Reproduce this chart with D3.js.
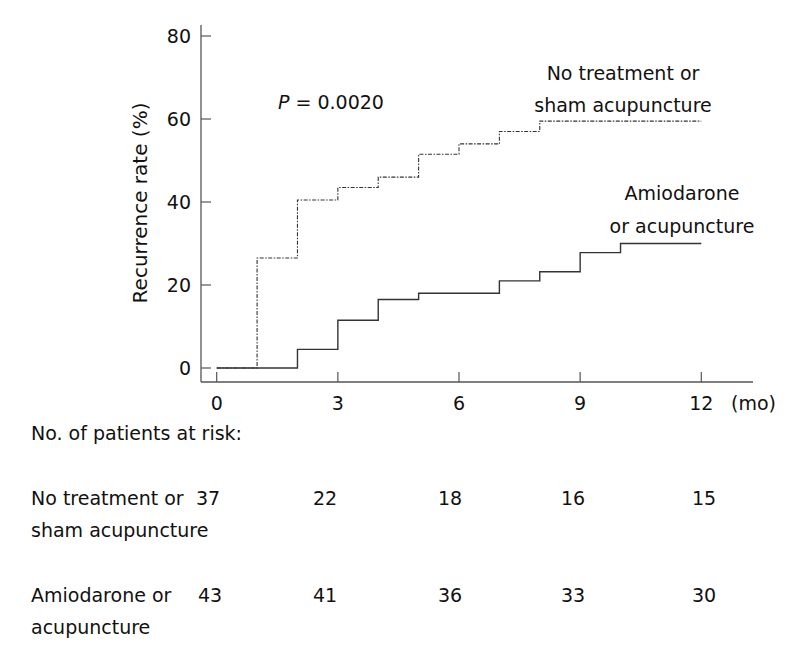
<!DOCTYPE html>
<html><head><meta charset="utf-8">
<script src="https://cdn.jsdelivr.net/npm/d3@7"></script>
<style>
body{margin:0;background:#fff;}
text{font-family:"DejaVu Sans",sans-serif;fill:#111;}
</style></head>
<body><svg id="c" width="787" height="662"></svg>
<script>
// ---- data ----
const months = [0, 3, 6, 9, 12];
const yTicks = [0, 20, 40, 60, 80];
// step points [month, recurrence %]
const noTreatment = [[0,0],[1,26.5],[2,40.5],[3,43.5],[4,46],[5,51.5],[6,54],[7,57],[8,59.5],[12,59.5]];
const amiodarone = [[0,0],[2,4.5],[3,11.5],[4,16.5],[5,18],[7,21],[8,23.2],[9,27.8],[10,30],[12,30]];
const groupNames = [["No treatment or","sham acupuncture"],["Amiodarone or","acupuncture"]];
const curveLabels = [["No treatment or","sham acupuncture"],["Amiodarone","or acupuncture"]];
const atRiskNoTreatment = [37, 22, 18, 16, 15];
const atRiskAmiodarone = [43, 41, 36, 33, 30];
const pText = "0.0020";

const svg = d3.select("#c");
const x = d3.scaleLinear().domain([0,12]).range([216.7,701.3]);
const y = d3.scaleLinear().domain([0,80]).range([368,36]);
const FS = 19;

// Y axis
svg.append("line").attr("x1",201).attr("x2",201).attr("y1",25).attr("y2",382).attr("stroke","#555").attr("stroke-width",1.3);
yTicks.forEach(v=>{
  svg.append("line").attr("x1",201).attr("x2",211).attr("y1",y(v)).attr("y2",y(v)).attr("stroke","#555").attr("stroke-width",1.2);
  svg.append("text").attr("x",191).attr("y",y(v)).attr("dy","0.35em").attr("text-anchor","end").attr("font-size",FS).text(v);
});
// X axis
svg.append("line").attr("x1",201).attr("x2",753).attr("y1",382).attr("y2",382).attr("stroke","#555").attr("stroke-width",1.3);
months.forEach(m=>{
  svg.append("line").attr("x1",x(m)).attr("x2",x(m)).attr("y1",372).attr("y2",382).attr("stroke","#555").attr("stroke-width",1.2);
  svg.append("text").attr("x",x(m)).attr("y",403).attr("dy","0.35em").attr("text-anchor","middle").attr("font-size",FS).text(m);
});
svg.append("text").attr("x",731).attr("y",403).attr("dy","0.35em").attr("font-size",FS).text("(mo)");

// Y label
svg.append("text").attr("transform","translate(140,203) rotate(-90)").attr("text-anchor","middle").attr("dy","0.35em").attr("font-size",20).text("Recurrence rate (%)");

// lines
const line = d3.line().x(d=>x(d[0])).y(d=>y(d[1])).curve(d3.curveStepAfter);
svg.append("path").datum(amiodarone).attr("d",line).attr("fill","none").attr("stroke","#333").attr("stroke-width",1.4);
svg.append("path").datum(noTreatment).attr("d",line).attr("fill","none").attr("stroke","#333").attr("stroke-width",1.1).attr("stroke-dasharray","4,1.5,1.5,1.5");

// P value
const pt = svg.append("text").attr("x",278).attr("y",102).attr("dy","0.35em").attr("font-size",FS);
pt.append("tspan").attr("font-style","italic").text("P");
pt.append("tspan").text(" = " + pText);

// group labels on chart
curveLabels[0].forEach((s,i)=>svg.append("text").attr("x",623).attr("y",73+i*32).attr("dy","0.35em").attr("text-anchor","middle").attr("font-size",FS).text(s));
curveLabels[1].forEach((s,i)=>svg.append("text").attr("x",682).attr("y",193+i*33).attr("dy","0.35em").attr("text-anchor","middle").attr("font-size",FS).text(s));

// table
svg.append("text").attr("x",31).attr("y",433).attr("dy","0.35em").attr("font-size",FS).text("No. of patients at risk:");
const xt = d3.scaleLinear().domain(months).range([208,325,450,573,704]);
const rows = [[atRiskNoTreatment,498],[atRiskAmiodarone,595]];
rows.forEach(([vals,yy],r)=>{
  groupNames[r].forEach((s,i)=>svg.append("text").attr("x",31).attr("y",yy+i*32).attr("dy","0.35em").attr("font-size",FS).text(s));
  vals.forEach((v,i)=>svg.append("text").attr("x",xt(months[i])+(r==1&&i==0?2:0)).attr("y",yy).attr("dy","0.35em").attr("text-anchor","middle").attr("font-size",FS).text(v));
});
</script></body></html>
